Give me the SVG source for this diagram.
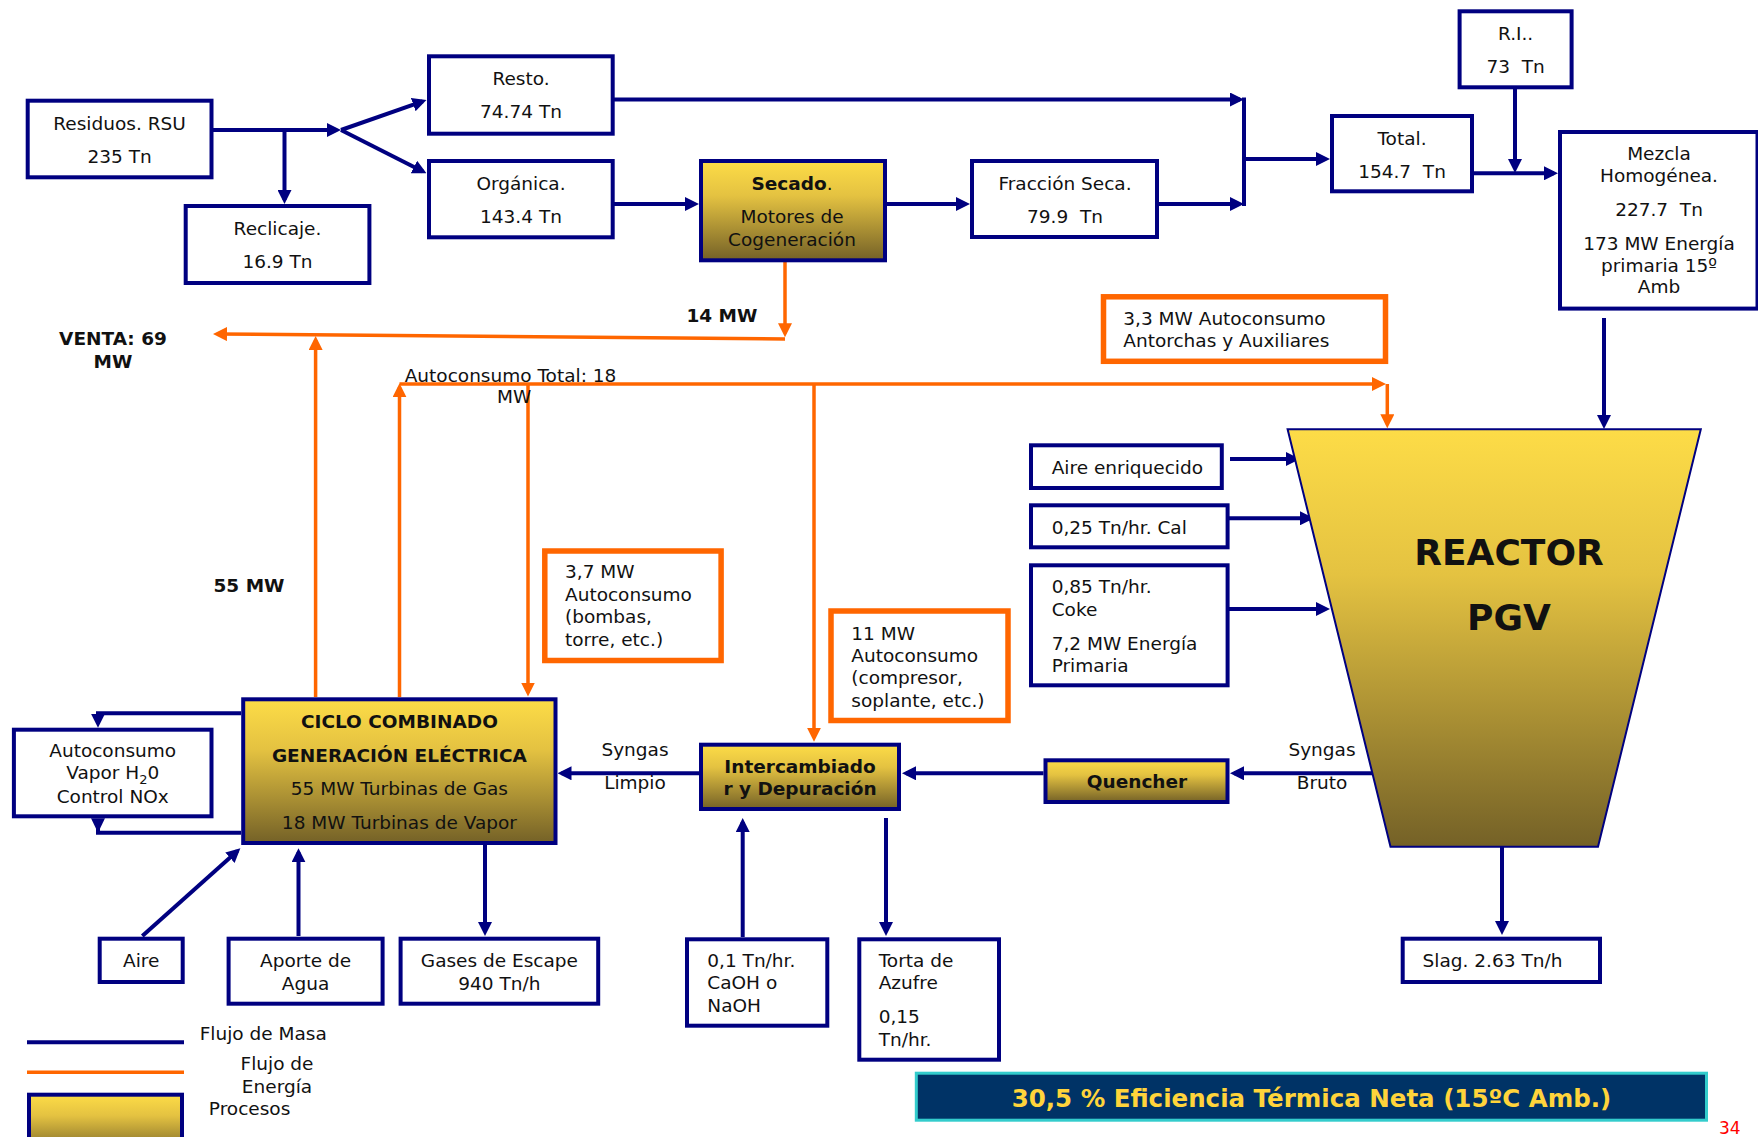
<svg xmlns="http://www.w3.org/2000/svg" width="1758" height="1137" viewBox="0 0 1758 1137">
<style>
.box{fill:#fff;stroke:#000080;stroke-width:4}
.obox{fill:#fff;stroke:#FF6600;stroke-width:5.5}
.proc{fill:url(#gold);stroke:#000080;stroke-width:4}
.m{stroke:#000080;stroke-width:4;fill:none;marker-end:url(#am)}
.mn{stroke:#000080;stroke-width:4;fill:none}
.e{stroke:#FF6600;stroke-width:3.5;fill:none;marker-end:url(#ae)}
.en{stroke:#FF6600;stroke-width:3.5;fill:none}
text{font-family:"DejaVu Sans","Liberation Sans",sans-serif;font-size:18.5px;fill:#111}
.b{font-weight:bold}
.c{text-anchor:middle}
</style>
<defs>
<linearGradient id="gold" x1="0" y1="0" x2="0" y2="1">
<stop offset="0" stop-color="#FDDC47"/>
<stop offset="0.35" stop-color="#E4C241"/>
<stop offset="1" stop-color="#746127"/>
</linearGradient>
<marker id="am" markerUnits="userSpaceOnUse" markerWidth="14" markerHeight="14" refX="10" refY="7" orient="auto">
<path d="M0,0 L14,7 L0,14 z" fill="#000080"/>
</marker>
<marker id="ae" markerUnits="userSpaceOnUse" markerWidth="14" markerHeight="14" refX="10" refY="7" orient="auto">
<path d="M0,0 L14,7 L0,14 z" fill="#FF6600"/>
</marker>
</defs>
<rect width="1758" height="1137" fill="#fff"/>

<g id="connectors">
<path class="m" d="M213,130 H337"/>
<path class="m" d="M341,130 L422.7,101.3"/>
<path class="m" d="M341,130 L422.9,171.5"/>
<path class="m" d="M284.5,130 V200"/>
<path class="m" d="M613,99.5 H1240"/>
<path class="mn" d="M1244,97.5 V206"/>
<path class="m" d="M613,204 H695"/>
<path class="m" d="M887,204 H966"/>
<path class="m" d="M1159,204 H1240"/>
<path class="m" d="M1244,159 H1326"/>
<path class="m" d="M1474,173.3 H1554"/>
<path class="m" d="M1515,89 V169"/>
<path class="m" d="M1604,318 V425"/>
<path class="m" d="M1230,459 H1296"/>
<path class="m" d="M1229,518.3 H1310"/>
<path class="m" d="M1229,609 H1326"/>
<path class="m" d="M1372,773.3 H1234"/>
<path class="m" d="M1043.5,773.3 H906"/>
<path class="m" d="M699,773.3 H561.5"/>
<path class="m" d="M742.7,937 V822"/>
<path class="m" d="M886,818 V932"/>
<path class="m" d="M1502,847 V931"/>
<path class="m" d="M241,713.3 H98 V723.7"/>
<path class="mn" d="M241,832.7 H98 V820"/>
<polygon points="91,818.3 105,818.3 98,832.7" fill="#000080"/>
<path class="m" d="M142.3,936 L237.4,851"/>
<path class="m" d="M298.5,936 V852.3"/>
<path class="m" d="M485,845 V932"/>

<path class="e" d="M785,262 V333.3"/>
<path class="e" d="M785,339 L217,334"/>
<path class="e" d="M315.6,697 V340"/>
<path class="e" d="M399.5,697 V387.3"/>
<path class="e" d="M399.5,384 H1382"/>
<path class="e" d="M1387.3,384 V424.3"/>
<path class="e" d="M528,384 V692.5"/>
<path class="e" d="M814,384 V737.7"/>
</g>

<g id="residuos"><rect class="box" x="27.7" y="100.7" width="183.8" height="76.6"/>
<text class="c" x="119.6" y="130">Residuos. RSU</text><text class="c" x="119.6" y="163">235 Tn</text></g>
<g id="reciclaje"><rect class="box" x="185.7" y="206" width="183.7" height="77"/>
<text class="c" x="277.5" y="235">Reclicaje.</text><text class="c" x="277.5" y="268">16.9 Tn</text></g>
<g id="resto"><rect class="box" x="429" y="56.3" width="183.7" height="77.4"/>
<text class="c" x="521" y="85">Resto.</text><text class="c" x="521" y="117.7">74.74 Tn</text></g>
<g id="organica"><rect class="box" x="429" y="161" width="183.7" height="76.3"/>
<text class="c" x="521" y="190">Orgánica.</text><text class="c" x="521" y="222.7">143.4 Tn</text></g>
<g id="secado"><rect class="proc" x="701" y="161" width="184" height="99.3"/>
<text class="c" x="792" y="190"><tspan class="b">Secado</tspan>.</text><text class="c" x="792" y="222.7">Motores de</text><text class="c" x="792" y="246">Cogeneración</text></g>
<g id="fraccion"><rect class="box" x="972" y="161" width="185" height="76"/>
<text class="c" x="1065" y="190">Fracción Seca.</text><text class="c" x="1065" y="222.7" xml:space="preserve">79.9  Tn</text></g>
<g id="total"><rect class="box" x="1332" y="116" width="140" height="75.3"/>
<text class="c" x="1402" y="145">Total.</text><text class="c" x="1402" y="178.3" xml:space="preserve">154.7  Tn</text></g>
<g id="ri"><rect class="box" x="1459.6" y="11.3" width="112" height="76"/>
<text class="c" x="1515.6" y="40">R.I..</text><text class="c" x="1515.6" y="73.3" xml:space="preserve">73  Tn</text></g>
<g id="mezcla"><rect class="box" x="1560" y="132" width="197.5" height="176.6"/>
<text class="c" x="1659" y="160">Mezcla</text><text class="c" x="1659" y="181.7">Homogénea.</text>
<text class="c" x="1659" y="216" xml:space="preserve">227.7  Tn</text>
<text class="c" x="1659" y="250">173 MW Energía</text><text class="c" x="1659" y="271.7">primaria 15º</text><text class="c" x="1659" y="293.3">Amb</text></g>

<g id="autoconsumo-antorchas"><rect class="obox" x="1103.5" y="296.8" width="282" height="64.5"/>
<text x="1123.3" y="325">3,3 MW Autoconsumo</text><text x="1123.3" y="346.7">Antorchas y Auxiliares</text></g>

<g id="venta"><text class="b c" x="113" y="345">VENTA: 69</text><text class="b c" x="113" y="368.3">MW</text></g>
<g id="label-14mw"><text class="b" x="686.4" y="321.7">14 MW</text></g>
<g id="label-55mw"><text class="b" x="213.5" y="591.7">55 MW</text></g>
<g id="label-autoconsumo-total"><text x="404.7" y="381.7">Autoconsumo Total: 18</text><text x="497" y="403.3">MW</text></g>

<g id="reactor"><polygon points="1287.6,429.3 1700.8,429.3 1598,846.7 1390.5,846.7" fill="url(#gold)" stroke="#000080" stroke-width="2"/>
<text class="b c" x="1509" y="565" style="font-size:36px">REACTOR</text>
<text class="b c" x="1509" y="630" style="font-size:36px">PGV</text></g>

<g id="aire-enriquecido"><rect class="box" x="1031" y="445.3" width="190.8" height="42.7"/>
<text x="1051.7" y="474">Aire enriquecido</text></g>
<g id="cal"><rect class="box" x="1031" y="505.3" width="196.6" height="42"/>
<text x="1051.7" y="534">0,25 Tn/hr. Cal</text></g>
<g id="coke"><rect class="box" x="1031" y="565.3" width="196.6" height="120"/>
<text x="1051.7" y="593.3">0,85 Tn/hr.</text><text x="1051.7" y="616">Coke</text>
<text x="1051.7" y="650">7,2 MW Energía</text><text x="1051.7" y="671.7">Primaria</text></g>

<g id="autoconsumo-bombas"><rect class="obox" x="544.8" y="551" width="176.3" height="109.5"/>
<text x="565" y="578.3">3,7 MW</text><text x="565" y="601">Autoconsumo</text><text x="565" y="623.3">(bombas,</text><text x="565" y="645.7">torre, etc.)</text></g>
<g id="autoconsumo-compresor"><rect class="obox" x="831" y="611" width="177" height="109.5"/>
<text x="851.3" y="640">11 MW</text><text x="851.3" y="662.3">Autoconsumo</text><text x="851.3" y="684.3">(compresor,</text><text x="851.3" y="706.7">soplante, etc.)</text></g>

<g id="syngas-bruto"><text class="c" x="1322" y="756">Syngas</text><text class="c" x="1322" y="789.3">Bruto</text></g>
<g id="quencher"><rect class="proc" x="1045.5" y="760.3" width="182" height="41.7"/>
<text class="b c" x="1137" y="788">Quencher</text></g>
<g id="intercambiador"><rect class="proc" x="701" y="744.7" width="198" height="64.3"/>
<text class="b c" x="800" y="772.7">Intercambiado</text><text class="b c" x="800" y="795">r y Depuración</text></g>
<g id="syngas-limpio"><text class="c" x="635" y="756">Syngas</text><text class="c" x="635" y="789.3">Limpio</text></g>

<g id="ciclo"><rect class="proc" x="243.2" y="699.3" width="312.3" height="143.7"/>
<text class="b c" x="399.4" y="727.7">CICLO COMBINADO</text>
<text class="b c" x="399.4" y="761.7">GENERACIÓN ELÉCTRICA</text>
<text class="c" x="399.4" y="795">55 MW Turbinas de Gas</text>
<text class="c" x="399.4" y="829">18 MW Turbinas de Vapor</text></g>
<g id="autoconsumo-vapor"><rect class="box" x="13.9" y="729.7" width="197.6" height="86.6"/>
<text class="c" x="112.7" y="757.3">Autoconsumo</text>
<text class="c" x="112.7" y="779.3">Vapor H<tspan style="font-size:13px" dy="5">2</tspan><tspan dy="-5">0</tspan></text>
<text class="c" x="112.7" y="802.7">Control NOx</text></g>

<g id="aire"><rect class="box" x="99.7" y="938.7" width="83" height="43.3"/>
<text class="c" x="141.2" y="966.7">Aire</text></g>
<g id="aporte"><rect class="box" x="228.6" y="938.7" width="154" height="65"/>
<text class="c" x="305.6" y="967.3">Aporte de</text><text class="c" x="305.6" y="990">Agua</text></g>
<g id="gases"><rect class="box" x="400.6" y="938.7" width="197.6" height="65"/>
<text class="c" x="499.4" y="967.3">Gases de Escape</text><text class="c" x="499.4" y="990">940 Tn/h</text></g>
<g id="caoh"><rect class="box" x="687" y="939.3" width="140.3" height="86.4"/>
<text x="707.3" y="967.3">0,1 Tn/hr.</text><text x="707.3" y="989.3">CaOH o</text><text x="707.3" y="1011.7">NaOH</text></g>
<g id="torta"><rect class="box" x="859.3" y="939.3" width="139.7" height="120.4"/>
<text x="878.7" y="967.3">Torta de</text><text x="878.7" y="989.3">Azufre</text><text x="878.7" y="1023.3">0,15</text><text x="878.7" y="1046">Tn/hr.</text></g>
<g id="slag"><rect class="box" x="1402.7" y="938.7" width="197.3" height="43.3"/>
<text x="1422.6" y="966.7">Slag. 2.63 Tn/h</text></g>

<g id="eficiencia"><rect x="916.3" y="1073.2" width="790.2" height="47" fill="#003366" stroke="#33CCCC" stroke-width="3"/>
<text class="b c" x="1311.5" y="1106.7" style="font-size:24.5px;fill:#FFD43B">30,5 % Eficiencia Térmica Neta (15ºC Amb.)</text></g>

<g id="legend">
<line x1="27" y1="1042.3" x2="184" y2="1042.3" stroke="#000080" stroke-width="4"/>
<line x1="27" y1="1072.3" x2="184" y2="1072.3" stroke="#FF6600" stroke-width="3.5"/>
<rect class="proc" x="29" y="1094.7" width="153" height="60"/>
<text x="199.7" y="1040">Flujo de Masa</text>
<text class="c" x="277" y="1070">Flujo de</text>
<text class="c" x="277" y="1092.7">Energía</text>
<text x="208.8" y="1115">Procesos</text>
</g>
<g id="page-number"><text x="1719" y="1134" style="font-size:17px;fill:#FF0000">34</text></g>
</svg>
